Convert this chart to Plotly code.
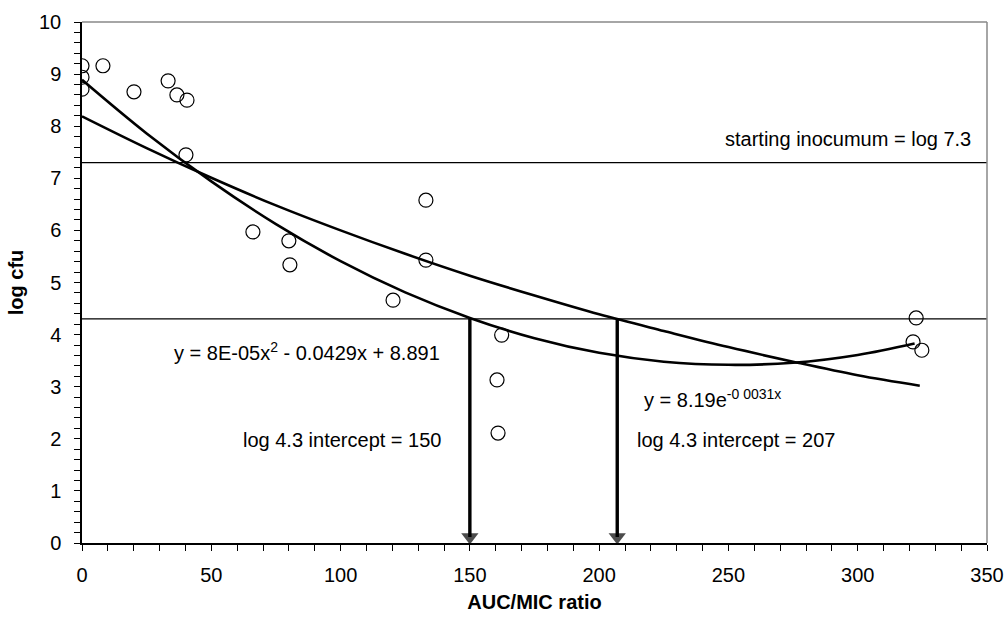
import plotly.graph_objects as go

# observed data points (AUC/MIC ratio, log cfu)
obs_x = [0, 0, 0, 8.1, 20.1, 33.3, 36.7, 40.6, 40.2, 66.1, 80.0, 80.4, 120.3,
         133.0, 133.0, 162.3, 160.5, 160.9, 322.6, 321.4, 324.8]
obs_y = [9.16, 8.94, 8.71, 9.16, 8.66, 8.87, 8.60, 8.50, 7.45, 5.97, 5.80, 5.34, 4.66,
         5.43, 6.58, 3.99, 3.13, 2.11, 4.32, 3.86, 3.70]

# polynomial trend line
poly_x = [0, 25, 50, 75, 100, 125, 150, 175, 200, 225, 250, 275, 300, 322]
poly_y = [8.89, 7.86, 6.94, 6.12, 5.41, 4.81, 4.32, 3.93, 3.65, 3.48, 3.42, 3.46, 3.61, 3.83]

# exponential trend line
exp_x = [0, 25, 50, 75, 100, 125, 150, 175, 200, 225, 250, 275, 300, 324]
exp_y = [8.19, 7.58, 7.01, 6.48, 6.00, 5.55, 5.13, 4.75, 4.39, 4.07, 3.76, 3.48, 3.22, 3.02]

# reference levels and intercepts
start_level = 7.3
target_level = 4.3
intercepts = [150, 207]

x_ticks = [0, 50, 100, 150, 200, 250, 300, 350]
y_ticks = list(range(0, 11))

FONT = "Liberation Sans, Arial, sans-serif"
FS = 20

fig = go.Figure()

fig.add_trace(go.Scatter(x=poly_x, y=poly_y, mode="lines", line=dict(color="black", width=2.6, shape="spline"),
                         showlegend=False, hoverinfo="skip"))
fig.add_trace(go.Scatter(x=exp_x, y=exp_y, mode="lines", line=dict(color="black", width=2.6, shape="spline"),
                         showlegend=False, hoverinfo="skip"))
fig.add_trace(go.Scatter(x=obs_x, y=obs_y, mode="markers",
                         marker=dict(symbol="circle-open", size=14, color="black", line=dict(width=1.2, color="black")),
                         showlegend=False))

# horizontal reference lines
for lvl in [start_level, target_level]:
    fig.add_shape(type="line", xref="paper", x0=0, x1=1, yref="y", y0=lvl, y1=lvl,
                  line=dict(color="black", width=1.2), layer="below")

# intercept arrows (line + arrowhead marker)
for xi in intercepts:
    fig.add_trace(go.Scatter(x=[xi, xi], y=[target_level, 0], mode="lines+markers",
                             line=dict(color="black", width=3.4),
                             marker=dict(symbol="triangle-up", size=[0, 15], angleref="previous", standoff=6,
                                         color="black", line=dict(width=0)),
                             showlegend=False, hoverinfo="skip", cliponaxis=False))

txt = dict(family=FONT, size=FS, color="black")
fig.add_annotation(x=1, xref="paper", xanchor="right", xshift=-14, y=7.75, yref="y",
                   text="starting inocumum = log 7.3", showarrow=False, font=txt)
fig.add_annotation(x=34.8, xref="x", xanchor="left", y=3.68, yref="y",
                   text="y = 8E-05x<sup>2</sup> - 0.0429x + 8.891", showarrow=False, font=txt)
fig.add_annotation(x=216.5, xref="x", xanchor="left", y=2.78, yref="y",
                   text="y = 8.19e<sup>-0 0031x</sup>", showarrow=False, font=txt)
fig.add_annotation(x=61.3, xref="x", xanchor="left", y=1.98, yref="y",
                   text="log 4.3 intercept = 150", showarrow=False, font=txt)
fig.add_annotation(x=213.8, xref="x", xanchor="left", y=1.98, yref="y",
                   text="log 4.3 intercept = 207", showarrow=False, font=txt)

fig.update_layout(
    width=1006, height=620,
    margin=dict(l=82, r=19, t=22, b=77),
    paper_bgcolor="white", plot_bgcolor="white",
    font=dict(family=FONT, size=FS, color="black"),
    xaxis=dict(range=[0, 350], tickvals=x_ticks, ticks="outside", ticklen=6, tickwidth=1.2, tickcolor="black",
               showline=True, linecolor="black", linewidth=1.5, mirror=False, showgrid=False, zeroline=False,
               minor=dict(dtick=10, ticks="outside", ticklen=6, tickwidth=1, tickcolor="black"),
               title=dict(text="<b>AUC/MIC ratio</b>", font=dict(size=FS), standoff=10),
               tickfont=dict(size=FS), ticklabelstandoff=7, automargin=False),
    yaxis=dict(range=[0, 10], tickvals=y_ticks, ticks="outside", ticklen=6, tickwidth=1.2, tickcolor="black",
               showline=True, linecolor="black", linewidth=1.5, showgrid=False, zeroline=False,
               minor=dict(dtick=0.2, ticks="outside", ticklen=6, tickwidth=1, tickcolor="black"),
               title=dict(text="<b>log cfu</b>", font=dict(size=FS), standoff=10),
               tickfont=dict(size=FS), ticklabelstandoff=9, automargin=False),
)

# grey top and right frame
fig.add_shape(type="line", xref="paper", yref="paper", x0=0, x1=1, y0=1, y1=1, line=dict(color="#888888", width=1.5))
fig.add_shape(type="line", xref="paper", yref="paper", x0=1, x1=1, y0=0, y1=1, line=dict(color="#888888", width=1.5))

fig.write_html("out.html")
